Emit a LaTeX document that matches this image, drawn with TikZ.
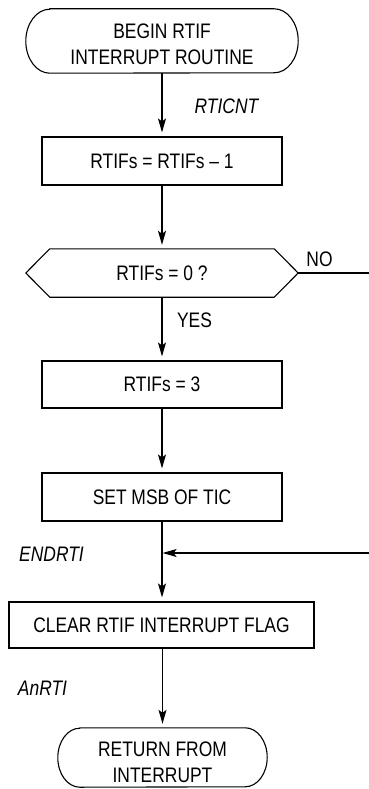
\documentclass[tikz,border=0pt]{standalone}
\usepackage{fontspec}
\setmainfont{Liberation Sans}[FakeStretch=0.83]
\usetikzlibrary{arrows.meta}
\newcommand\drawterm[3]{%
  \draw[line width=1.1pt] ([xshift=#2pt]#1.north west) -- ([xshift=-#2pt]#1.north east)
    arc[start angle=90,end angle=-90,x radius=#2pt,y radius=#3pt]
    -- ([xshift=#2pt]#1.south west)
    arc[start angle=270,end angle=90,x radius=#2pt,y radius=#3pt] -- cycle;}
\begin{document}
\begin{tikzpicture}[x=1pt,y=1pt,
  txt/.style={font=\fontsize{21}{26}\selectfont, inner sep=0pt, align=center},
  lbl/.style={txt, font=\fontsize{21}{26}\selectfont\itshape},
  shapebox/.style={inner sep=0pt, minimum width=#1pt},
  procbox/.style={draw, line width=1.1pt, inner sep=0pt, minimum width=240pt, minimum height=48pt, font=\fontsize{21}{26}\selectfont},
  arr/.style={-{Stealth[length=14pt,width=8pt,inset=3pt]}, line width=1.2pt, shorten >=4pt},
  plain/.style={line width=1.2pt}]
\useasboundingbox (0,0) rectangle (369,-789);

% terminals
\node[shapebox=272, minimum height=64pt] (start) at (162,-41) {};
\drawterm{start}{24}{32}
\node[txt] (starttext) at (162,-44.5) {BEGIN RTIF\\INTERRUPT ROUTINE};

\node[procbox] (b1) at (162,-161) {RTIFs = RTIFs -- 1};

\node[shapebox=272, minimum height=48pt] (dec) at (162,-273) {};
\draw[line width=1.1pt] (dec.west) -- ([xshift=24pt]dec.north west) -- ([xshift=-24pt]dec.north east)
  -- (dec.east) -- ([xshift=-24pt]dec.south east) -- ([xshift=24pt]dec.south west) -- cycle;
\node[txt] (dectext) at (162,-273) {RTIFs = 0 ?};

\node[procbox, minimum height=47pt] (b2) at (162,-384.5) {RTIFs = 3};
\node[procbox] (b3) at (162,-497) {SET MSB OF TIC};
\node[procbox, minimum width=305pt, minimum height=46pt] (b4) at (161.5,-625) {CLEAR RTIF INTERRUPT FLAG};

\node[shapebox=209, minimum height=59pt] (stop) at (162.5,-757.5) {};
\drawterm{stop}{22}{29.5}
\node[txt] (stoptext) at (162.5,-762) {RETURN FROM\\INTERRUPT};

% labels
\node[lbl] (rticnt) at (226.5,-106) {RTICNT};
\node[txt] (no) at (319.5,-259) {NO};
\node[txt] (yes) at (194.5,-320) {YES};
\node[lbl] (endrti) at (51.5,-554.7) {ENDRTI};
\node[lbl] (anrti) at (42.5,-688) {AnRTI};

% connectors
\coordinate (noend) at (369,-273);
\coordinate (retstart) at (369,-553);
\coordinate (merge) at (162,-553);
\draw[arr] (start.south) -- (b1.north);
\draw[arr] (b1.south) -- (dec.south |- dec.north);
\draw[arr] (dec.south) -- (b2.north);
\draw[arr] (b2.south) -- (b3.north);
\draw[arr] (b3.south) -- (b3.south |- b4.north);
\draw[arr] (b4.south -| stop.north) -- (stop.north);
\draw[plain] (dec.east) -- (noend);
\draw[arr, shorten >=0.6pt] (retstart) -- (merge);
\end{tikzpicture}
\end{document}
